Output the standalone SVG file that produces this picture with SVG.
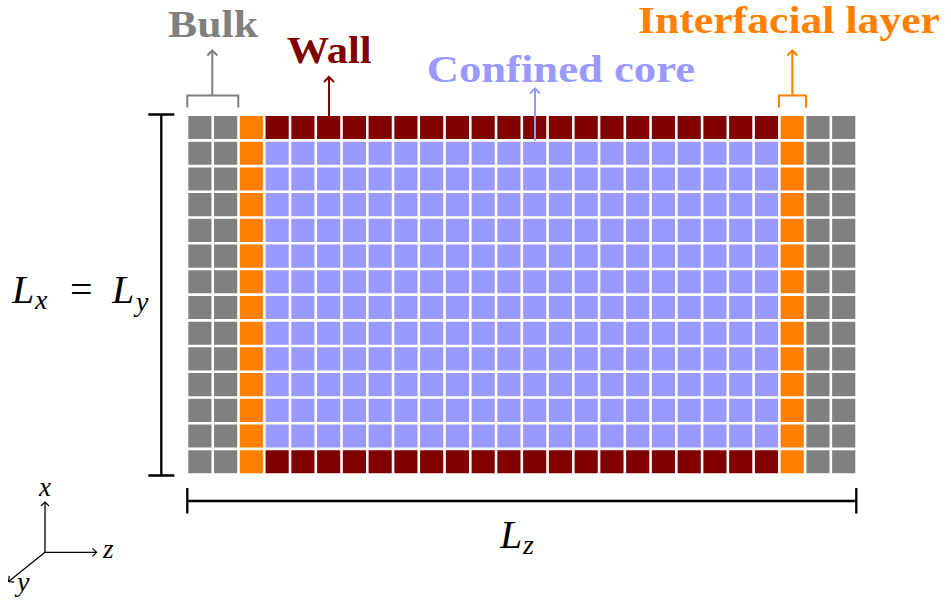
<svg xmlns="http://www.w3.org/2000/svg" width="951" height="603" viewBox="0 0 951 603">
<style>
.grid{stroke:#fff;stroke-width:2.6;fill:none}
.con{fill:none;stroke-width:2}
.dim{fill:none;stroke:#000;stroke-width:2.3}
.ax{fill:none;stroke:#000;stroke-width:1.3}
</style>
<defs>
<marker id="aG" markerUnits="userSpaceOnUse" viewBox="-6 -6 12 12" markerWidth="12" markerHeight="12" refX="0" refY="0" orient="auto"><path d="M-5,-5 Q-1.5,-1.5 0,0 Q-1.5,1.5 -5,5" fill="none" stroke="#808080" stroke-width="2"/></marker>
<marker id="aR" markerUnits="userSpaceOnUse" viewBox="-6 -6 12 12" markerWidth="12" markerHeight="12" refX="0" refY="0" orient="auto"><path d="M-5,-5 Q-1.5,-1.5 0,0 Q-1.5,1.5 -5,5" fill="none" stroke="#800000" stroke-width="2"/></marker>
<marker id="aB" markerUnits="userSpaceOnUse" viewBox="-6 -6 12 12" markerWidth="12" markerHeight="12" refX="0" refY="0" orient="auto"><path d="M-5,-5 Q-1.5,-1.5 0,0 Q-1.5,1.5 -5,5" fill="none" stroke="#9999FF" stroke-width="2"/></marker>
<marker id="aO" markerUnits="userSpaceOnUse" viewBox="-6 -6 12 12" markerWidth="12" markerHeight="12" refX="0" refY="0" orient="auto"><path d="M-5,-5 Q-1.5,-1.5 0,0 Q-1.5,1.5 -5,5" fill="none" stroke="#FF8000" stroke-width="2"/></marker>
<marker id="aK" markerUnits="userSpaceOnUse" viewBox="-6 -6 12 12" markerWidth="12" markerHeight="12" refX="0" refY="0" orient="auto"><path d="M-4,-4 Q-1.2,-1.2 0,0 Q-1.2,1.2 -4,4" fill="none" stroke="#000" stroke-width="1.2"/></marker>
</defs>
<rect width="951" height="603" fill="#fff"/>

<g id="bulk">
<rect x="187" y="114.7" width="51.51" height="359.9" fill="#808080"/>
<rect x="805.1" y="114.7" width="51.5" height="359.9" fill="#808080"/>
<text font-family="Liberation Serif, Times New Roman, serif" font-weight="bold" font-size="38" x="168" y="37" fill="#808080" textLength="90" lengthAdjust="spacingAndGlyphs">Bulk</text>
</g>
<g id="interfacial">
<rect x="238.51" y="114.7" width="25.75" height="359.9" fill="#FF8000"/>
<rect x="779.34" y="114.7" width="25.76" height="359.9" fill="#FF8000"/>
<text font-family="Liberation Serif, Times New Roman, serif" font-weight="bold" font-size="38" x="638" y="33.3" fill="#FF8000" textLength="302" lengthAdjust="spacingAndGlyphs">Interfacial layer</text>
</g>
<g id="wall">
<rect x="264.26" y="114.7" width="515.08" height="25.71" fill="#800000"/>
<rect x="264.26" y="448.89" width="515.08" height="25.71" fill="#800000"/>
<text font-family="Liberation Serif, Times New Roman, serif" font-weight="bold" font-size="38" x="286.7" y="63.3" fill="#800000" textLength="85" lengthAdjust="spacingAndGlyphs">Wall</text>
</g>
<g id="core">
<rect x="264.26" y="140.41" width="515.08" height="308.48" fill="#9999FF"/>
<text font-family="Liberation Serif, Times New Roman, serif" font-weight="bold" font-size="38" x="426.7" y="81.7" fill="#9999FF" textLength="268.3" lengthAdjust="spacingAndGlyphs">Confined core</text>
</g>

<path class="grid" d="M187,114.7V474.6M212.75,114.7V474.6M238.51,114.7V474.6M264.26,114.7V474.6M290.02,114.7V474.6M315.77,114.7V474.6M341.52,114.7V474.6M367.28,114.7V474.6M393.03,114.7V474.6M418.79,114.7V474.6M444.54,114.7V474.6M470.29,114.7V474.6M496.05,114.7V474.6M521.8,114.7V474.6M547.56,114.7V474.6M573.31,114.7V474.6M599.06,114.7V474.6M624.82,114.7V474.6M650.57,114.7V474.6M676.33,114.7V474.6M702.08,114.7V474.6M727.83,114.7V474.6M753.59,114.7V474.6M779.34,114.7V474.6M805.1,114.7V474.6M830.85,114.7V474.6M856.6,114.7V474.6M187,114.7H856.6M187,140.41H856.6M187,166.11H856.6M187,191.82H856.6M187,217.53H856.6M187,243.24H856.6M187,268.94H856.6M187,294.65H856.6M187,320.36H856.6M187,346.06H856.6M187,371.77H856.6M187,397.48H856.6M187,423.18H856.6M187,448.89H856.6M187,474.6H856.6"/>

<g id="connectors">
<path class="con" stroke="#808080" d="M187.3,107.5V95.5H238.3V107.5"/>
<path class="con" stroke="#808080" d="M212.3,95.5V50.5" marker-end="url(#aG)"/>
<path class="con" stroke="#800000" d="M329,126V77" marker-end="url(#aR)"/>
<path class="con" stroke="#9999FF" d="M535,140.4V88.5" marker-end="url(#aB)"/>
<path class="con" stroke="#FF8000" d="M779,107.5V95.5H806V107.5"/>
<path class="con" stroke="#FF8000" d="M792.3,95.5V50.5" marker-end="url(#aO)"/>
<path class="dim" d="M148.3,114.5H174.3M161.3,114.5V475.5M148.3,475.5H174.3"/>
<path class="dim" d="M187.3,488V513.5M187.3,501H856.3M856.3,488V513.5"/>
<path class="ax" d="M45,552.3V502" marker-end="url(#aK)"/>
<path class="ax" d="M45,552.3H96.5" marker-end="url(#aK)"/>
<path class="ax" d="M45,552.3L8.6,581.5" marker-end="url(#aK)"/>
</g>

<g id="dims" font-family="Liberation Serif, Times New Roman, serif" font-style="italic">
<text y="303.3" font-size="40"><tspan x="12">L</tspan><tspan x="35" y="309" font-size="28">x</tspan><tspan x="70" y="303.3" font-style="normal">=</tspan><tspan x="112">L</tspan><tspan x="136" y="311" font-size="28">y</tspan></text>
<text y="548" font-size="40"><tspan x="500">L</tspan><tspan x="523" y="554" font-size="28">z</tspan></text>
<text x="45" y="496" font-size="27" text-anchor="middle">x</text>
<text x="103" y="558" font-size="27">z</text>
<text x="17" y="591" font-size="28">y</text>
</g>
</svg>
